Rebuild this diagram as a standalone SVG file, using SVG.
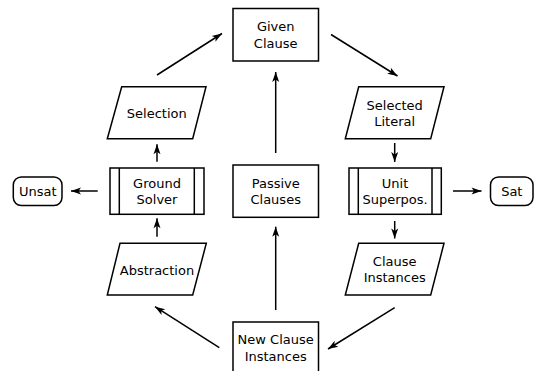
<svg xmlns="http://www.w3.org/2000/svg" width="536" height="371" viewBox="0 0 536 371">
<style>
.s{fill:#fff;stroke:#000;stroke-width:1.5}
.t{font-family:"DejaVu Sans",sans-serif;font-size:13px;text-anchor:middle;fill:#000}
.c{stroke:#000;stroke-width:1.5;fill:none;marker-end:url(#a)}
</style>
<defs>
<marker id="a" markerUnits="userSpaceOnUse" markerWidth="12" markerHeight="9" refX="10" refY="3.5" orient="auto" overflow="visible">
<path d="M0,0 L10,3.5 L0,7 L2.5,3.5 z" fill="#000"/>
</marker>
</defs>
<rect width="536" height="371" fill="#fff"/>
<g id="connectors">
<line class="c" x1="157" y1="75" x2="222" y2="33.5"/>
<line class="c" x1="331" y1="34.5" x2="397.5" y2="76"/>
<line class="c" x1="275.7" y1="153" x2="275.7" y2="72"/>
<line class="c" x1="394.7" y1="143" x2="394.7" y2="162"/>
<line class="c" x1="453" y1="191" x2="481.5" y2="191"/>
<line class="c" x1="97.7" y1="191" x2="71" y2="191"/>
<line class="c" x1="157" y1="161.7" x2="157" y2="144.3"/>
<line class="c" x1="157" y1="236.7" x2="157" y2="218.3"/>
<line class="c" x1="394.7" y1="221" x2="394.7" y2="238.5"/>
<line class="c" x1="394.7" y1="307.7" x2="328" y2="349"/>
<line class="c" x1="219.3" y1="347.7" x2="155" y2="306.7"/>
<line class="c" x1="275.7" y1="310" x2="275.7" y2="226.7"/>
</g>
<g id="given">
<rect class="s" x="233" y="8.5" width="85.5" height="52.5"/>
<text class="t" x="275.7" y="31.4">Given</text>
<text class="t" x="275.7" y="48">Clause</text>
</g>
<g id="selection">
<polygon class="s" points="121.7,86.7 206,86.7 192.7,138.7 107.3,138.7"/>
<text class="t" x="156.8" y="117.7">Selection</text>
</g>
<g id="selected-literal">
<polygon class="s" points="358.7,86.7 444,86.7 430.7,138.7 345.3,138.7"/>
<text class="t" x="394.7" y="110">Selected</text>
<text class="t" x="394.7" y="126.4">Literal</text>
</g>
<g id="ground-solver">
<rect class="s" x="110" y="168" width="94" height="46.3"/>
<line x1="119.3" y1="168" x2="119.3" y2="214.3" stroke="#000" stroke-width="1.5"/>
<line x1="194.3" y1="168" x2="194.3" y2="214.3" stroke="#000" stroke-width="1.5"/>
<text class="t" x="157" y="187.7">Ground</text>
<text class="t" x="157" y="204">Solver</text>
</g>
<g id="passive">
<rect class="s" x="233" y="165" width="85.5" height="52.3"/>
<text class="t" x="275.7" y="187.7">Passive</text>
<text class="t" x="275.7" y="204">Clauses</text>
</g>
<g id="unit-superpos">
<rect class="s" x="349" y="168" width="92.3" height="46.3"/>
<line x1="358.3" y1="168" x2="358.3" y2="214.3" stroke="#000" stroke-width="1.5"/>
<line x1="432" y1="168" x2="432" y2="214.3" stroke="#000" stroke-width="1.5"/>
<text class="t" x="395" y="187.7">Unit</text>
<text class="t" x="395" y="204">Superpos.</text>
</g>
<g id="unsat">
<rect class="s" x="13.3" y="177" width="48.7" height="28.5" rx="8"/>
<text class="t" x="37.7" y="195.7">Unsat</text>
</g>
<g id="sat">
<rect class="s" x="490.5" y="177" width="42.5" height="28.5" rx="8"/>
<text class="t" x="511.8" y="195.7">Sat</text>
</g>
<g id="abstraction">
<polygon class="s" points="120,243.3 206.3,243.3 192.7,295 107.3,295"/>
<text class="t" x="157" y="274.5">Abstraction</text>
</g>
<g id="clause-instances">
<polygon class="s" points="358.7,243.3 444,243.3 430.7,295 345.3,295"/>
<text class="t" x="394.7" y="266.4">Clause</text>
<text class="t" x="394.7" y="282.4">Instances</text>
</g>
<g id="new-clause-instances">
<rect class="s" x="233" y="322" width="85.5" height="60"/>
<text class="t" x="275.7" y="344.2">New Clause</text>
<text class="t" x="275.7" y="360.6">Instances</text>
</g>
</svg>
